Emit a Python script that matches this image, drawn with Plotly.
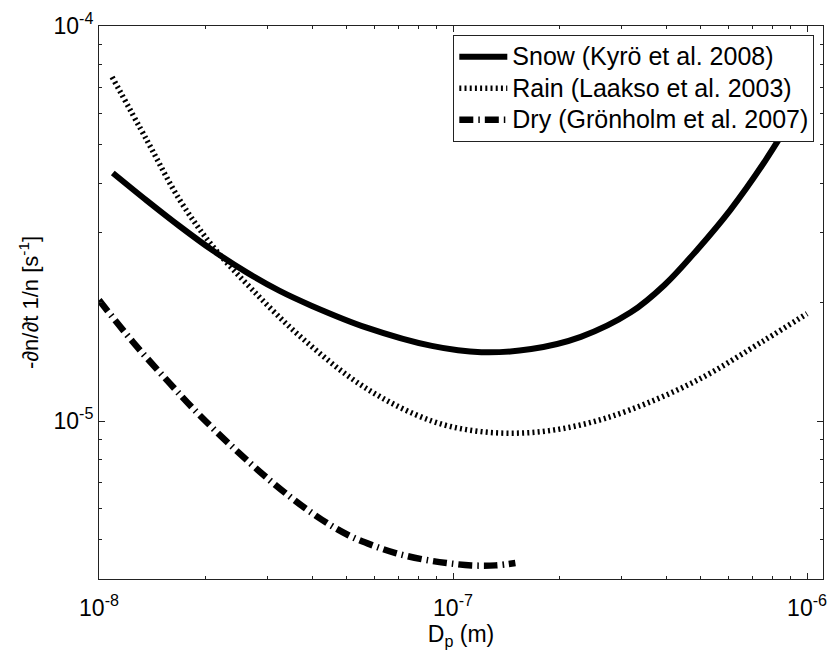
import plotly.graph_objects as go

# ---- data ----
snow_x = [1.094e-8, 1.365e-8, 1.69e-8, 2.094e-8, 2.606e-8, 3.228e-8, 3.98e-8, 5.675e-8, 8.71e-8,
          1.202e-7, 1.663e-7, 2.296e-7, 3.177e-7, 3.963e-7, 4.909e-7, 6.067e-7, 7.568e-7, 1.0e-6]
snow_y = [4.246e-5, 3.614e-5, 3.112e-5, 2.704e-5, 2.382e-5, 2.138e-5, 1.959e-5, 1.726e-5, 1.549e-5,
          1.493e-5, 1.521e-5, 1.633e-5, 1.884e-5, 2.213e-5, 2.723e-5, 3.42e-5, 4.519e-5, 6.76e-5]

rain_x = [1.089e-8, 1.365e-8, 1.69e-8, 2.094e-8, 2.71e-8, 3.75e-8, 5.68e-8, 8.71e-8, 1.2e-7,
          1.66e-7, 2.29e-7, 3.16e-7, 4.91e-7, 7.57e-7, 1.0e-6]
rain_y = [7.43e-5, 5.14e-5, 3.63e-5, 2.77e-5, 2.15e-5, 1.62e-5, 1.21e-5, 1.0e-5, 9.4e-6,
          9.35e-6, 9.77e-6, 1.067e-5, 1.27e-5, 1.60e-5, 1.87e-5]

dry_x = [1.0e-8, 1.247e-8, 1.585e-8, 1.923e-8, 2.661e-8, 3.443e-8, 4.266e-8, 5.082e-8, 5.902e-8,
         6.887e-8, 8.147e-8, 9.594e-8, 1.127e-7, 1.318e-7, 1.5e-7]
dry_y = [2.023e-5, 1.585e-5, 1.245e-5, 1.035e-5, 7.85e-6, 6.46e-6, 5.62e-6, 5.13e-6, 4.85e-6,
         4.63e-6, 4.47e-6, 4.37e-6, 4.31e-6, 4.31e-6, 4.37e-6]

names = ["Snow (Kyrö et al. 2008)", "Rain (Laakso et al. 2003)", "Dry (Grönholm et al. 2007)"]

x_major = [1e-8, 1e-7, 1e-6]
x_major_text = ["10<sup>-8</sup>", "10<sup>-7</sup>", "10<sup>-6</sup>"]
y_major = [1e-5, 1e-4]
y_major_text = ["10<sup>-5</sup>", "10<sup>-4</sup>"]

x_minor = [m * d for d in [1e-8, 1e-7, 1e-6] for m in range(2, 10)]
y_minor = [m * d for d in [1e-6, 1e-5] for m in range(2, 10)]

FONT = "Arial, Liberation Sans, sans-serif"


def legend_label(s):
    return '<span style="font-size:25px">' + s + '</span>'


fig = go.Figure()
fig.add_trace(go.Scatter(x=snow_x, y=snow_y, mode="lines", name=legend_label(names[0]),
                         line=dict(color="black", width=6, shape="spline")))
fig.add_trace(go.Scatter(x=rain_x, y=rain_y, mode="lines", name=legend_label(names[1]),
                         line=dict(color="black", width=5.5, dash="2px,3.2px", shape="spline")))
fig.add_trace(go.Scatter(x=dry_x, y=dry_y, mode="lines", name=legend_label(names[2]),
                         line=dict(color="black", width=6.5, dash="14px,5px,1.5px,5px", shape="spline")))

axis_common = dict(showline=True, linecolor="#222", linewidth=1, mirror="ticks",
                   ticks="inside", ticklen=6, tickcolor="#222", showgrid=False, zeroline=False,
                   tickfont=dict(family=FONT, size=23, color="black"))

fig.update_xaxes(type="log", range=[-8, -5.955], tickmode="array", tickvals=x_major,
                 ticktext=x_major_text, ticklabelstandoff=8,
                 minor=dict(tickmode="array", tickvals=x_minor, ticks="inside", ticklen=3,
                            tickcolor="#222", showgrid=False),
                 title=dict(text="D<sub>p</sub> (m)", font=dict(family=FONT, size=23, color="black"),
                            standoff=6),
                 **axis_common)
fig.update_yaxes(type="log", range=[-5.4, -4], tickmode="array", tickvals=y_major,
                 ticktext=y_major_text,
                 minor=dict(tickmode="array", tickvals=y_minor, ticks="inside", ticklen=3,
                            tickcolor="#222", showgrid=False),
                 title=dict(text="-∂n/∂t 1/n [s<sup>-1</sup>]", font=dict(family=FONT, size=22, color="black"),
                            standoff=8),
                 **axis_common)

fig.update_layout(
    width=833, height=657,
    margin=dict(l=99, r=6, t=26, b=78),
    paper_bgcolor="white", plot_bgcolor="white",
    font=dict(family=FONT, color="black"),
    legend=dict(x=0.988, y=0.984, xanchor="right", yanchor="top",
                bgcolor="white", bordercolor="#222", borderwidth=1,
                font=dict(family=FONT, size=22, color="black"),
                tracegroupgap=0, itemwidth=48),
)

fig.write_html("out.html", config={"displayModeBar": False},
               post_script="document.body.style.margin='0';document.body.style.overflow='hidden';")
